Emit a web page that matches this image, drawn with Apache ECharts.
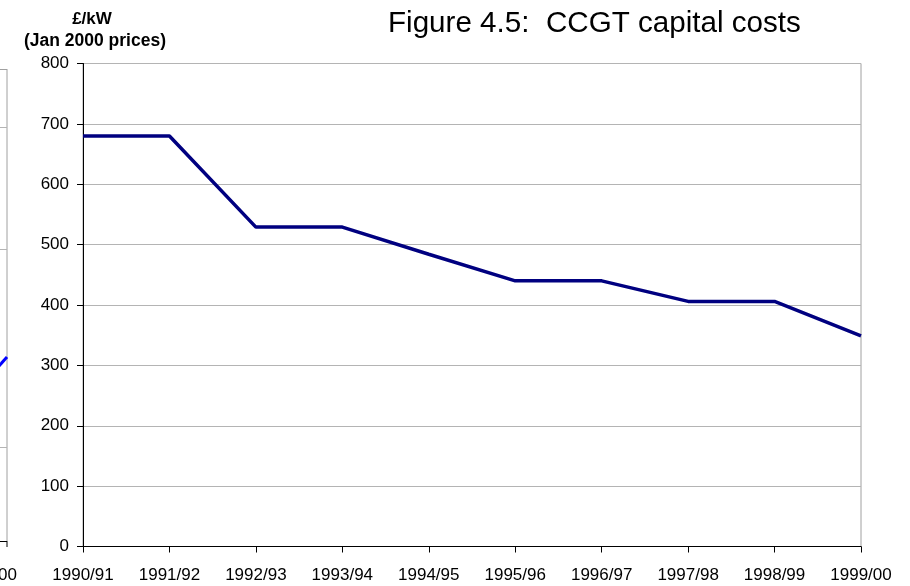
<!DOCTYPE html>
<html>
<head>
<meta charset="utf-8">
<script src="https://cdn.jsdelivr.net/npm/echarts@6/dist/echarts.min.js"></script>
<style>html,body{margin:0;padding:0;background:#fff;}#c{width:910px;height:586px;}</style>
</head>
<body>
<div id="c"></div>
<script>
var categories = ['1990/91','1991/92','1992/93','1993/94','1994/95','1995/96','1996/97','1997/98','1998/99','1999/00'];
var capitalCost = [680, 680, 529, 529, 484, 440, 440, 406, 406, 349];
var yTicks = [0, 100, 200, 300, 400, 500, 600, 700, 800];
var titleText = 'Figure 4.5:  CCGT capital costs';
var unitLines = ['£/kW', '(Jan 2000 prices)'];

var FONT = '"Liberation Sans", Arial, sans-serif';
var chart = echarts.init(document.getElementById('c'), null, {renderer: 'canvas'});
chart.setOption({
  animation: false,
  backgroundColor: '#ffffff',
  title: {
    text: titleText,
    left: 383, top: 1,
    textStyle: {fontFamily: FONT, fontSize: 29.6, fontWeight: 'normal', color: '#000', lineHeight: 36}
  },
  grid: {left: 83, right: 49, top: 63.5, bottom: 39.5, show: true, borderColor: '#a0a0a0', borderWidth: 1, backgroundColor: 'transparent'},
  xAxis: {
    type: 'category',
    data: categories,
    boundaryGap: false,
    axisLine: {lineStyle: {color: '#000', width: 1}},
    axisTick: {show: true, alignWithLabel: true, length: 6, lineStyle: {color: '#000'}},
    axisLabel: {fontFamily: FONT, fontSize: 17, color: '#000', margin: 20, interval: 0},
    splitLine: {show: false}
  },
  yAxis: {
    type: 'value',
    min: yTicks[0], max: yTicks[yTicks.length - 1], interval: 100,
    axisLine: {show: true, lineStyle: {color: '#000', width: 1}},
    axisTick: {show: true, length: 6, lineStyle: {color: '#000'}},
    axisLabel: {fontFamily: FONT, fontSize: 17, color: '#000', margin: 14},
    splitLine: {show: true, lineStyle: {color: '#b4b4b4', width: 1}}
  },
  series: [{
    type: 'line',
    data: capitalCost,
    symbol: 'none',
    lineStyle: {color: '#000080', width: 3.5},
    z: 5
  }],
  graphic: [
    {type: 'text', silent: true, style: {text: unitLines[0], x: 92, y: 19, fontFamily: FONT, fontSize: 17, fontWeight: 'bold', fill: '#000', textAlign: 'center', textVerticalAlign: 'middle', verticalAlign: 'middle'}},
    {type: 'text', silent: true, style: {text: unitLines[1], x: 95, y: 41, fontFamily: FONT, fontSize: 17.5, fontWeight: 'bold', fill: '#000', textAlign: 'center', textVerticalAlign: 'middle', verticalAlign: 'middle'}},
    {type: 'line', silent: true, shape: {x1: 7, y1: 69, x2: 7, y2: 541}, style: {stroke: '#a0a0a0', lineWidth: 1}},
    {type: 'line', silent: true, shape: {x1: 0, y1: 69.5, x2: 7, y2: 69.5}, style: {stroke: '#a0a0a0', lineWidth: 1}},
    {type: 'line', silent: true, shape: {x1: 0, y1: 127.5, x2: 7, y2: 127.5}, style: {stroke: '#b4b4b4', lineWidth: 1}},
    {type: 'line', silent: true, shape: {x1: 0, y1: 249.5, x2: 7, y2: 249.5}, style: {stroke: '#b4b4b4', lineWidth: 1}},
    {type: 'line', silent: true, shape: {x1: 0, y1: 447.5, x2: 7, y2: 447.5}, style: {stroke: '#b4b4b4', lineWidth: 1}},
    {type: 'line', silent: true, shape: {x1: 0, y1: 541.5, x2: 7, y2: 541.5}, style: {stroke: '#000', lineWidth: 1}},
    {type: 'line', silent: true, shape: {x1: 7, y1: 541, x2: 7, y2: 547}, style: {stroke: '#000', lineWidth: 1}},
    {type: 'line', silent: true, shape: {x1: -1, y1: 366, x2: 7, y2: 357}, style: {stroke: '#0000ff', lineWidth: 3}},
    {type: 'text', silent: true, style: {text: '1999/00', x: 17, y: 567, fontFamily: FONT, fontSize: 17, fill: '#000', textAlign: 'right'}}
  ]
});
</script>
</body>
</html>
